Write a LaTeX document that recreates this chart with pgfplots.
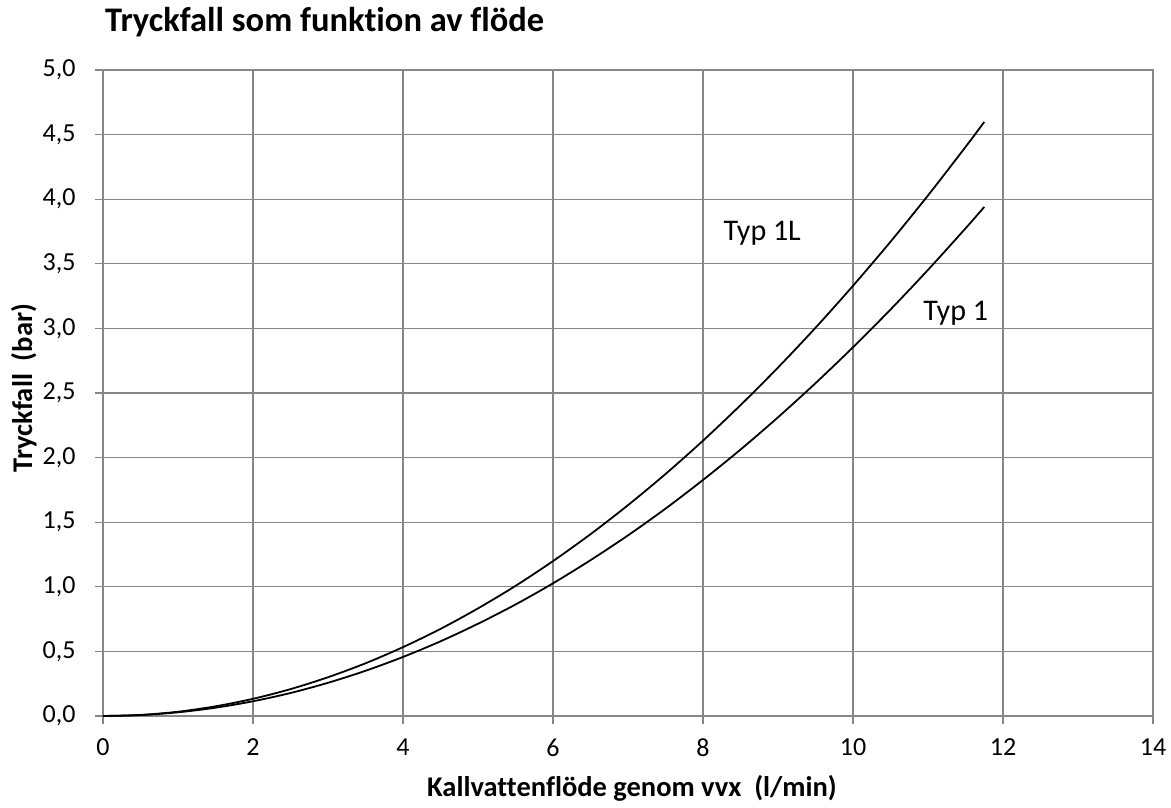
\documentclass[border=0pt]{standalone}
\usepackage{pgfplots}
\pgfplotsset{compat=1.18}
\usepackage{fontspec}
\setmainfont{Carlito}[Ligatures=NoCommon]
\definecolor{gridc}{RGB}{134,134,134}
\begin{document}
\begin{tikzpicture}[x=1pt,y=1pt]
\useasboundingbox (0,0) rectangle (1171,807);
\begin{axis}[
  at={(103pt,91pt)}, anchor=south west,
  scale only axis, width=1050pt, height=646pt,
  xmin=0, xmax=14, ymin=0, ymax=5,
  xtick={0,2,...,14}, ytick={0,0.5,...,5},
  grid=major, tick pos=left,
  grid style={gridc, line width=1.3pt},
  axis line style={gridc, line width=1.3pt},
  major tick style={gridc, line width=1.3pt},
  tick align=outside, major tick length=8pt,
  /pgf/number format/assume math mode=true,
  /pgf/number format/use comma,
  yticklabel={\pgfmathprintnumber[fixed,fixed zerofill,precision=1,use comma]{\tick}},
  xticklabel={\pgfmathprintnumber[fixed,precision=0]{\tick}},
  ticklabel style={font=\fontsize{26}{30}\selectfont, text=black},
  xticklabel style={yshift=-11pt},
  yticklabel style={xshift=-16pt},
  clip=false,
]
\addplot[black, line width=1.8pt, smooth] coordinates {
(0,0) (0.5,0.0083) (1,0.033) (1.5,0.075) (2,0.133) (2.5,0.208) (3,0.300) (3.5,0.408)
(4,0.533) (4.5,0.674) (5,0.833) (5.5,1.007) (6,1.199) (6.5,1.407) (7,1.632) (7.5,1.873)
(8,2.131) (8.5,2.406) (9,2.697) (9.5,3.005) (10,3.330) (10.5,3.671) (11,4.029) (11.5,4.404) (11.75,4.598)
};
\addplot[black, line width=1.8pt, smooth] coordinates {
(0,0) (0.5,0.0071) (1,0.0285) (1.5,0.0642) (2,0.114) (2.5,0.178) (3,0.257) (3.5,0.350)
(4,0.457) (4.5,0.578) (5,0.714) (5.5,0.863) (6,1.027) (6.5,1.206) (7,1.398) (7.5,1.605)
(8,1.827) (8.5,2.062) (9,2.312) (9.5,2.576) (10,2.854) (10.5,3.146) (11,3.453) (11.5,3.774) (11.75,3.940)
};
\node[font=\fontsize{30}{34}\selectfont] at (axis cs:8.79,3.74) {Typ 1L};
\node[font=\fontsize{30}{34}\selectfont] at (axis cs:11.37,3.12) {Typ 1};
\end{axis}
\node[anchor=base west, inner sep=0pt, font=\fontsize{34.5}{40}\bfseries] at (105,775) {Tryckfall som funktion av flöde};
\node[anchor=base, inner sep=0pt, font=\fontsize{28.5}{33}\bfseries] at (632,11) {Kallvattenflöde genom vvx~~(l/min)};
\node[rotate=90, anchor=base, inner sep=0pt, font=\fontsize{28.5}{33}\bfseries] at (32,419) {Tryckfall~~(bar)};
\end{tikzpicture}
\end{document}
